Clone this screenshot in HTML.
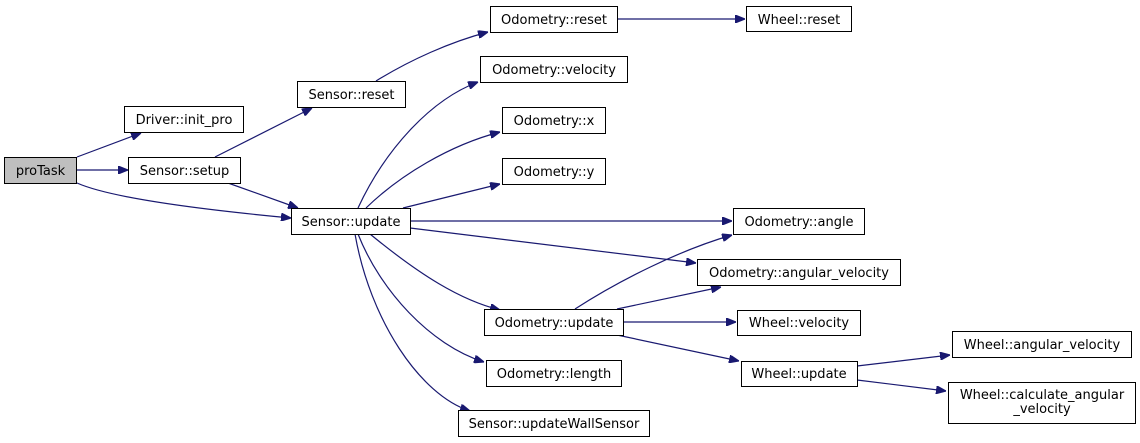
<!DOCTYPE html>
<html><head><meta charset="utf-8"><style>
html,body{margin:0;padding:0;background:#fff;width:1140px;height:443px;overflow:hidden}
svg{display:block}
text{font-family:"DejaVu Sans","Liberation Sans",sans-serif;font-size:13px;fill:#000}
rect{fill:#fff;stroke:#000;stroke-width:1}
path{fill:none;stroke:#191970;stroke-width:1.2}
</style></head><body>
<svg width="1140" height="443" viewBox="0 0 1140 443">
<defs><marker id="a" markerWidth="10" markerHeight="8" refX="10" refY="4" orient="auto" markerUnits="userSpaceOnUse"><path d="M0,0 L10,4 L0,8 Z" style="fill:#191970;stroke:#191970"/></marker></defs>
<g marker-end="url(#a)">
<path d="M77,157 L141,133"/>
<path d="M77,170 L128,170"/>
<path d="M77,183 Q120,202 291,218"/>
<path d="M215,157 L312,108"/>
<path d="M228,183 L298,208"/>
<path d="M376,81 C410,60 450,42 488,32"/>
<path d="M358,208 C385,150 430,100 478,82"/>
<path d="M366,208 C400,175 450,145 500,132"/>
<path d="M403,208 L500,184"/>
<path d="M410,221 L732,221"/>
<path d="M410,228 L696,263"/>
<path d="M370,234 C420,275 460,300 500,310"/>
<path d="M358,234 C380,290 430,345 484,362"/>
<path d="M355,234 C370,320 420,395 470,411"/>
<path d="M617,19 L745,19"/>
<path d="M575,309 C620,280 680,250 732,235"/>
<path d="M617,309 L721,287"/>
<path d="M623,322 L736,322"/>
<path d="M617,335 L739,361"/>
<path d="M857,366 L950,355"/>
<path d="M857,380 L946,391"/>
</g>
<rect x="4.5" y="157.5" width="72" height="26" style="fill:#bfbfbf"/><text x="40.5" y="175" text-anchor="middle">proTask</text>
<rect x="124.5" y="106.5" width="119" height="26"/><text x="184" y="124" text-anchor="middle">Driver::init_pro</text>
<rect x="128.5" y="157.5" width="112" height="26"/><text x="184.5" y="175" text-anchor="middle">Sensor::setup</text>
<rect x="297.5" y="81.5" width="108" height="26"/><text x="351.5" y="99" text-anchor="middle">Sensor::reset</text>
<rect x="291.5" y="208.5" width="119" height="26"/><text x="351" y="226" text-anchor="middle">Sensor::update</text>
<rect x="490.5" y="6.5" width="127" height="26"/><text x="554" y="24" text-anchor="middle">Odometry::reset</text>
<rect x="480.5" y="56.5" width="147" height="26"/><text x="554" y="74" text-anchor="middle">Odometry::velocity</text>
<rect x="502.5" y="107.5" width="103" height="26"/><text x="554" y="125" text-anchor="middle">Odometry::x</text>
<rect x="502.5" y="158.5" width="103" height="26"/><text x="554" y="176" text-anchor="middle">Odometry::y</text>
<rect x="484.5" y="309.5" width="139" height="26"/><text x="554" y="327" text-anchor="middle">Odometry::update</text>
<rect x="486.5" y="360.5" width="135" height="26"/><text x="554" y="378" text-anchor="middle">Odometry::length</text>
<rect x="458.5" y="410.5" width="191" height="26"/><text x="554" y="428" text-anchor="middle">Sensor::updateWallSensor</text>
<rect x="746.5" y="6.5" width="105" height="25"/><text x="799" y="24" text-anchor="middle">Wheel::reset</text>
<rect x="733.5" y="208.5" width="131" height="26"/><text x="799" y="226" text-anchor="middle">Odometry::angle</text>
<rect x="697.5" y="259.5" width="203" height="26"/><text x="799" y="277" text-anchor="middle">Odometry::angular_velocity</text>
<rect x="737.5" y="310.5" width="123" height="25"/><text x="799" y="327" text-anchor="middle">Wheel::velocity</text>
<rect x="741.5" y="361.5" width="116" height="25"/><text x="799" y="378" text-anchor="middle">Wheel::update</text>
<rect x="952.5" y="331.5" width="179" height="26"/><text x="1042" y="349" text-anchor="middle">Wheel::angular_velocity</text>
<rect x="948.5" y="382.5" width="187" height="41"/><text x="1042" y="399" text-anchor="middle">Wheel::calculate_angular</text><text x="1042" y="413" text-anchor="middle">_velocity</text>
</svg>
</body></html>
